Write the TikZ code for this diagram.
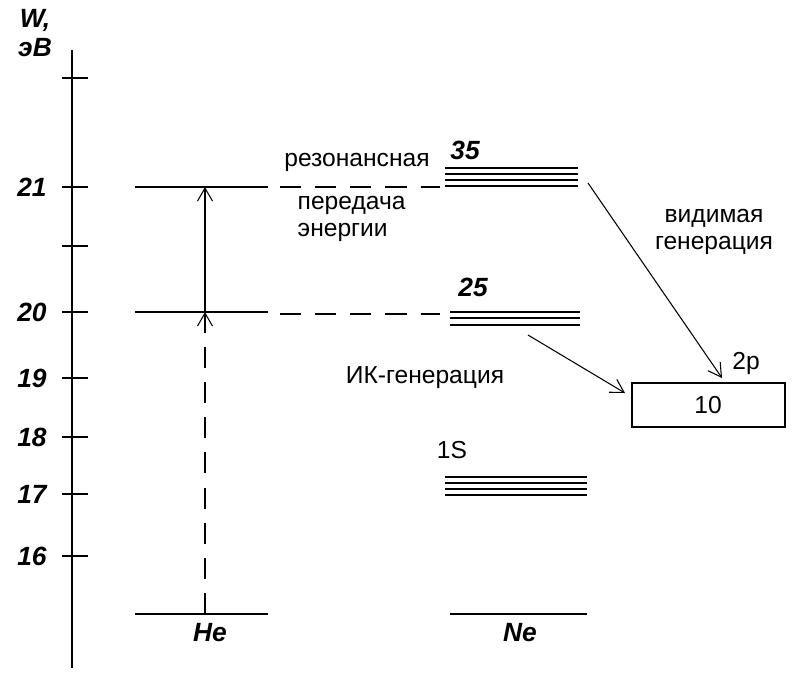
\documentclass[tikz,border=0pt]{standalone}
\usepackage{fontspec}
\setmainfont{Liberation Sans}
\usetikzlibrary{arrows, arrows.meta, positioning}
\tikzstyle{level} = [line width=0.8pt]
\tikzstyle{arrow} = [line width=0.6pt,-{Straight Barb[length=2.6mm,width=3mm]}]
\tikzstyle{lbl} = [font=\fontsize{14}{16}\selectfont, inner sep=0pt]
\tikzstyle{num} = [font=\fontsize{15}{17}\selectfont\bfseries\itshape, inner sep=0pt]

\begin{document}
\begin{tikzpicture}[x=0.02cm, y=-0.02cm, thick]
\useasboundingbox (0,0) rectangle (794,674);
% Axis
\coordinate (axtop) at (72,50);
\coordinate (axbot) at (72,668);
\draw [level] (axbot) -- (axtop);
\foreach \y in {78,187,246,312,378,437,494,556}
  \draw [level] (62,\y) -- (88,\y);
\node [num] (w) at (35,20) {W,};
\node [num] (ev) at (35,48) {эВ};
\foreach \y/\t in {187/21,312/20,378/19,437/18,494/17,556/16}
  \node [num] at (32,\y) {\t};
% He levels
\draw [level] (135,187) -- (268,187);
\draw [level] (135,312) -- (268,312);
\draw [level] (135,614) -- (268,614);
\coordinate (he0) at (205,614);
\coordinate (he1) at (205,312);
\coordinate (he2) at (205,187);
\draw [arrow, dash pattern=on 12pt off 8pt] (he0) -- (he1);
\draw [arrow] (he1) -- (he2);
\node [num] (he) at (210,633) {He};
% Dashed transfer
\draw [level, dash pattern=on 12pt off 8pt] (280,187) -- (440,187);
\draw [level, dash pattern=on 12pt off 8pt] (280,314) -- (440,314);
\node [lbl] (res) at (357,162) {резонансная};
\node [lbl, anchor=west] (per) at (297,205) {передача};
\node [lbl, anchor=west] (en) at (297,232) {энергии};
% Ne levels
\foreach \y in {168,174,180,186} \draw [level] (445,\y) -- (578,\y);
\foreach \y in {312,318,325} \draw [level] (450,\y) -- (580,\y);
\foreach \y in {477,483,489,495} \draw [level] (445,\y) -- (587,\y);
\draw [level] (450,614) -- (587,614);
\node [num] (n35) at (465,150) {35};
\node [num] (n25) at (473,287) {25};
\node [lbl] (s1) at (452,450) {1S};
\node [num] (ne) at (520,633) {Ne};
% Box
\draw [level] (632,383) rectangle (785,427);
\node [lbl] (ten) at (708,405) {10};
\node [lbl] (p2) at (746,363) {2p};
% Transitions
\coordinate (a1) at (588,183);
\coordinate (b1) at (722,378);
\coordinate (a2) at (528,335);
\coordinate (b2) at (625,393);
\draw [arrow] (a1) -- (b1);
\draw [arrow] (a2) -- (b2);
\node [lbl] (vid) at (714,218) {видимая};
\node [lbl] (gen) at (714,245) {генерация};
\node [lbl] (ik) at (425,378) {ИК-генерация};
\end{tikzpicture}
\end{document}
